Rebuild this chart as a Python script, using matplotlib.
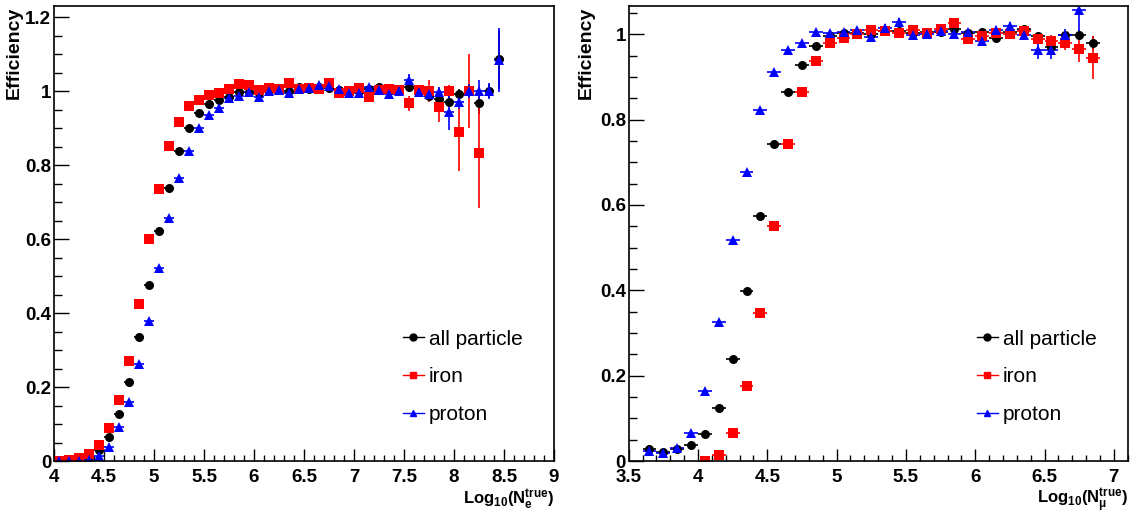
import numpy as np
import matplotlib
matplotlib.use('Agg')
import matplotlib.pyplot as plt
from matplotlib.lines import Line2D
from matplotlib.ticker import MultipleLocator, FormatStrFormatter

plt.rcParams['font.family'] = ['Liberation Sans', 'DejaVu Sans']
plt.rcParams['mathtext.fontset'] = 'custom'
plt.rcParams['mathtext.rm'] = 'Liberation Sans:bold'
plt.rcParams['mathtext.it'] = 'Liberation Sans:bold'
plt.rcParams['mathtext.bf'] = 'Liberation Sans:bold'

nan = np.nan

# ---- left panel: Log10(Ne true) ----
ne_x = [4.05, 4.15, 4.25, 4.35, 4.45, 4.55, 4.65, 4.75, 4.85, 4.95,
        5.05, 5.15, 5.25, 5.35, 5.45, 5.55, 5.65, 5.75, 5.85, 5.95,
        6.05, 6.15, 6.25, 6.35, 6.45, 6.55, 6.65, 6.75, 6.85, 6.95,
        7.05, 7.15, 7.25, 7.35, 7.45, 7.55, 7.65, 7.75, 7.85, 7.95,
        8.05, 8.15, 8.25, 8.35, 8.45]
ne_all = [0.0, 0.002, 0.005, 0.012, 0.030, 0.066, 0.127, 0.213, 0.334, 0.476,
          0.622, 0.737, 0.839, 0.901, 0.940, 0.965, 0.976, 0.985, 0.997, 0.997,
          0.995, 1.001, 1.003, 1.001, 1.010, 1.005, 1.012, 1.007, 1.003, 1.003,
          1.001, 1.005, 1.010, 1.003, 1.001, 1.012, 0.998, 0.986, 0.978, 0.971,
          0.991, 1.000, 0.969, 1.000, 1.086]
ne_iron = [0.0, 0.002, 0.007, 0.019, 0.043, 0.088, 0.165, 0.271, 0.424, 0.599,
           0.735, 0.851, 0.917, 0.960, 0.977, 0.989, 0.996, 1.005, 1.018, 1.016,
           1.004, 1.007, 1.006, 1.021, 1.005, 1.007, 1.005, 1.021, 0.994, 1.001,
           1.007, 0.985, 1.003, 1.005, 1.003, 0.967, 1.003, 1.000, 0.956, 1.000,
           0.890, 1.000, 0.833, nan, nan]
ne_proton = [0.0, 0.0, 0.0, 0.004, 0.014, 0.039, 0.093, 0.160, 0.261, 0.379,
             0.523, 0.656, 0.764, 0.839, 0.899, 0.935, 0.953, 0.980, 0.986, 0.997,
             0.985, 1.001, 1.002, 0.994, 1.006, 1.009, 1.016, 1.014, 1.005, 0.995,
             0.995, 1.010, 1.003, 0.991, 1.001, 1.030, 0.998, 0.991, 0.998, 0.944,
             0.971, 1.000, 1.000, 1.000, 1.084]
ne_all_err = [0, 0, 0, 0, 0, 0, 0, 0, 0, 0,
              0, 0, 0, 0, 0, 0, 0, 0, 0, 0,
              0, 0, 0, 0, 0, 0, 0, 0, 0, 0,
              0.005, 0.005, 0.005, 0.005, 0.008, 0.015, 0.008, 0.010, 0.012, 0.015,
              0.015, 0.02, 0.03, 0.02, 0.08]
ne_iron_err = [0, 0, 0, 0, 0, 0, 0, 0, 0, 0,
               0, 0, 0, 0, 0, 0, 0, 0, 0, 0,
               0, 0, 0, 0, 0, 0, 0, 0, 0, 0,
               0.005, 0.005, 0.005, 0.008, 0.008, 0.021, 0.010, 0.030, 0.039, 0.016,
               0.107, 0.100, 0.150, 0, 0]
ne_proton_err = [0, 0, 0, 0, 0, 0, 0, 0, 0, 0,
                 0, 0, 0, 0, 0, 0, 0, 0, 0, 0,
                 0, 0, 0, 0, 0, 0, 0, 0, 0, 0,
                 0.005, 0.005, 0.005, 0.008, 0.008, 0.016, 0.008, 0.010, 0.012, 0.050,
                 0.020, 0.02, 0.030, 0.022, 0.086]

# ---- right panel: Log10(Nmu true) ----
nmu_x = [3.65, 3.75, 3.85, 3.95, 4.05, 4.15, 4.25, 4.35, 4.45, 4.55,
         4.65, 4.75, 4.85, 4.95, 5.05, 5.15, 5.25, 5.35, 5.45, 5.55,
         5.65, 5.75, 5.85, 5.95, 6.05, 6.15, 6.25, 6.35, 6.45, 6.55,
         6.65, 6.75, 6.85]
nmu_all = [0.027, 0.021, 0.028, 0.038, 0.063, 0.125, 0.238, 0.398, 0.574, 0.742,
           0.864, 0.928, 0.973, 0.996, 1.002, 1.002, 1.000, 1.008, 1.008, 1.003,
           1.004, 1.004, 1.011, 1.002, 1.004, 0.990, 1.004, 1.012, 0.996, 0.969,
           0.998, 0.998, 0.980]
nmu_iron = [nan, nan, nan, nan, 0.0, 0.013, 0.066, 0.175, 0.347, 0.550,
            0.742, 0.864, 0.936, 0.979, 0.990, 1.001, 1.010, 1.008, 1.002, 1.010,
            1.002, 1.011, 1.027, 0.989, 0.996, 1.002, 1.000, 1.008, 0.988, 0.983,
            0.979, 0.965, 0.945]
nmu_proton = [0.023, 0.019, 0.031, 0.066, 0.163, 0.326, 0.517, 0.676, 0.822, 0.911,
              0.963, 0.979, 1.004, 1.002, 1.004, 1.010, 0.994, 1.015, 1.029, 0.998,
              1.000, 1.008, 1.000, 1.004, 0.983, 1.010, 1.019, 0.998, 0.964, 0.964,
              0.999, 1.057, nan]
nmu_all_err = [0, 0, 0, 0, 0, 0, 0, 0, 0, 0,
               0, 0, 0, 0, 0, 0, 0, 0, 0, 0,
               0, 0, 0, 0, 0.004, 0.005, 0.005, 0.006, 0.008, 0.010,
               0.010, 0.012, 0.016]
nmu_iron_err = [0, 0, 0, 0, 0, 0, 0, 0, 0, 0,
                0, 0, 0, 0, 0, 0, 0, 0, 0, 0,
                0, 0, 0.006, 0.006, 0.006, 0.006, 0.008, 0.008, 0.010, 0.015,
                0.015, 0.030, 0.050]
nmu_proton_err = [0, 0, 0, 0, 0, 0, 0, 0, 0, 0,
                  0, 0, 0, 0, 0, 0, 0, 0.010, 0.010, 0,
                  0, 0, 0, 0.006, 0.006, 0.008, 0.010, 0.010, 0.022, 0.022,
                  0.012, 0.060, 0]

bin_half = 0.05
labels = ['all particle', 'iron', 'proton']
colors = ['black', '#ff0000', '#0000ff']
markers = ['o', 's', '^']
msizes = [6.5, 6.5, 7.5]


def draw_panel(ax, x, series, errs, xlim, ylim, xlab, label_x):
    for y, e, c, m, s in zip(series, errs, colors, markers, msizes):
        ax.errorbar(x, y, xerr=bin_half, yerr=e, fmt=m, color=c, ms=s,
                    elinewidth=1.2, capsize=0, mew=0)
    ax.set_xlim(xlim)
    ax.set_ylim(ylim)
    ax.xaxis.set_major_locator(MultipleLocator(0.5))
    ax.xaxis.set_minor_locator(MultipleLocator(0.1))
    ax.yaxis.set_major_locator(MultipleLocator(0.2))
    ax.yaxis.set_minor_locator(MultipleLocator(0.05))
    ax.xaxis.set_major_formatter(FormatStrFormatter('%g'))
    ax.yaxis.set_major_formatter(FormatStrFormatter('%g'))
    ax.tick_params(axis='x', which='major', direction='in', length=9, width=1, pad=6,
                   labelsize=13.5)
    ax.tick_params(axis='x', which='minor', direction='in', length=4.5, width=1)
    ax.tick_params(axis='y', which='major', direction='in', length=11, width=1, pad=2,
                   labelsize=13.5)
    ax.tick_params(axis='y', which='minor', direction='in', length=5.5, width=1)
    for lab in ax.get_xticklabels() + ax.get_yticklabels():
        lab.set_fontweight('bold')
    for sp in ax.spines.values():
        sp.set_linewidth(1.2)
    ax.text(label_x, 0.998, 'Efficiency', rotation=90, ha='right', va='top',
            fontsize=14, fontweight='bold', transform=ax.transAxes)
    ax.text(1.0, -0.097, xlab, ha='right', va='baseline', fontsize=12,
            fontweight='bold', transform=ax.transAxes)
    handles = [Line2D([], [], color=c, marker=m, ms=5, lw=1)
               for c, m in zip(colors, markers)]
    ax.legend(handles, labels, loc='upper left', bbox_to_anchor=(0.698, 0.289),
              frameon=False, fontsize=15, handlelength=1.0, handletextpad=0.25,
              labelspacing=0.9, borderpad=0, borderaxespad=0)


fig = plt.figure(figsize=(11.33, 5.16), dpi=100)
ax1 = fig.add_axes([54 / 1133, 55 / 516, 500 / 1133, 455 / 516])
ax2 = fig.add_axes([628.7 / 1133, 55 / 516, 499 / 1133, 455 / 516])

draw_panel(ax1, ne_x, [ne_all, ne_iron, ne_proton],
           [ne_all_err, ne_iron_err, ne_proton_err],
           (4, 9), (0, 1.23), 'Log$_{10}$(N$_{e}^{true}$)', -0.062)
draw_panel(ax2, nmu_x, [nmu_all, nmu_iron, nmu_proton],
           [nmu_all_err, nmu_iron_err, nmu_proton_err],
           (3.5, 7.1), (0, 1.066), r'Log$_{10}$(N$_{\mu}^{true}$)', -0.0675)

fig.savefig('out.png', dpi=100)
